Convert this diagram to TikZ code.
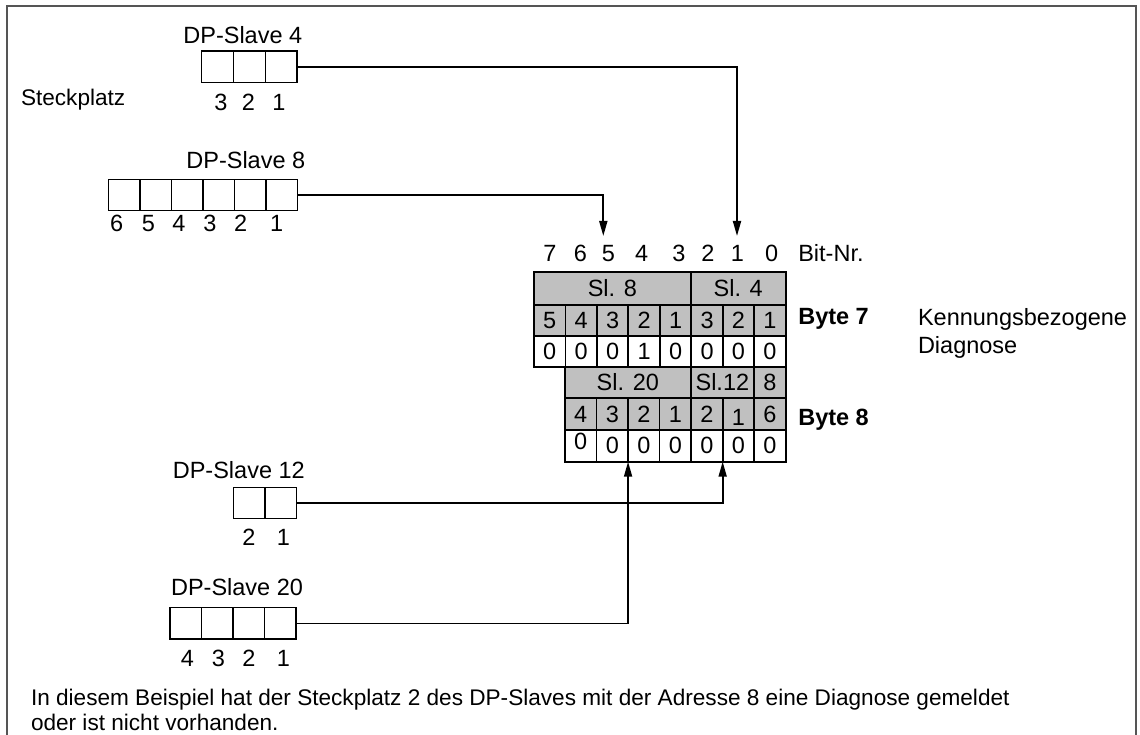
\documentclass[tikz,border=0pt]{standalone}
\usepackage{fontspec}
\setmainfont{Liberation Sans}
\usetikzlibrary{arrows.meta}
\definecolor{cellgray}{HTML}{C0C0C0}
\definecolor{framegray}{HTML}{555555}
\begin{document}
\begin{tikzpicture}[x=1pt,y=-1pt,
  font=\fontsize{23.5}{25}\selectfont,
  cell/.style={draw, line width=1.8pt, inner sep=0pt, outer sep=0pt, anchor=north west},
  gcell/.style={cell, fill=cellgray},
  wcell/.style={cell, fill=white},
  slot/.style={draw, line width=1.3pt, inner sep=0pt, outer sep=0pt, anchor=north west,
    minimum width=31.6pt, minimum height=31.4pt},
  lbl/.style={inner sep=0pt, outer sep=0pt, anchor=base},
  lblw/.style={inner sep=0pt, outer sep=0pt, anchor=base west},
  small/.style={font=\fontsize{22.6}{25}\selectfont},
  conn/.style={line width=1.8pt},
  arr/.style={conn, -{Triangle[length=15pt,width=8pt]}}]
\useasboundingbox (0,0) rectangle (1140,735);
% frame
\draw[framegray, line width=2pt] (7.3,735) -- (7.3,6) -- (1136,6) -- (1136,735);

% ---------- DP-Slave 4 ----------
\node[lbl] (l4) at (242.8,43.3) {DP-Slave 4};
\foreach \n [count=\i] in {a,b,c}
  \node[slot] (s4\n) at ({201.7+(\i-1)*31.87},51) {};
\node[lbl] (s4n3) at (221,110.7) {3};
\node[lbl] (s4n2) at (248.3,110.7) {2};
\node[lbl] (s4n1) at (279,110.7) {1};
\node[lblw, small] (steck) at (21,105.5) {Steckplatz};

% ---------- DP-Slave 8 ----------
\node[lbl] (l8) at (245.8,168.3) {DP-Slave 8};
\foreach \n [count=\i] in {a,b,c,d,e,f}
  \node[slot] (s8\n) at ({108.3+(\i-1)*31.5},179.3) {};
\node[lbl] (s8n6) at (116.7,231.7) {6};
\node[lbl] (s8n5) at (148.3,231.7) {5};
\node[lbl] (s8n4) at (179,231.7) {4};
\node[lbl] (s8n3) at (210,231.7) {3};
\node[lbl] (s8n2) at (240.7,231.7) {2};
\node[lbl] (s8n1) at (276.7,231.7) {1};

% ---------- DP-Slave 12 ----------
\node[lbl] (l12) at (238.8,478.3) {DP-Slave 12};
\foreach \n [count=\i] in {a,b}
  \node[slot] (s12\n) at ({233.3+(\i-1)*31.35},487.3) {};
\node[lbl] (s12n2) at (249,545.7) {2};
\node[lbl] (s12n1) at (283.3,545.7) {1};

% ---------- DP-Slave 20 ----------
\node[lbl] (l20) at (237,595) {DP-Slave 20};
\foreach \n [count=\i] in {a,b,c,d}
  \node[slot] (s20\n) at ({170+(\i-1)*31.5},607.7) {};
\node[lbl] (s20n4) at (187.5,666.7) {4};
\node[lbl] (s20n3) at (218.3,666.7) {3};
\node[lbl] (s20n2) at (249,666.7) {2};
\node[lbl] (s20n1) at (283.3,666.7) {1};

% ---------- bit numbers ----------
\foreach \t/\x in {7/550,6/580.5,5/608.5,4/641.7,3/679,2/708,1/737.5,0/771.7}
  \node[lbl] (bit\t) at (\x,261.7) {\t};
\node[lblw] (bitnr) at (798.3,261.7) {Bit-Nr.};

% ---------- Byte 7 ----------
\node[gcell, minimum width=156.7pt, minimum height=33.3pt] (sl8) at (534,271.7) {Sl. 8};
\node[gcell, minimum width=95pt, minimum height=33.3pt] (sl4) at (690.7,271.7) {Sl. 4};
\foreach \t [count=\i] in {5,4,3,2,1,3,2,1}
  \node[gcell, minimum width=31.46pt, minimum height=31pt] (ra\i) at ({534+(\i-1)*31.46},305) {\t};
\foreach \t [count=\i] in {0,0,0,1,0,0,0,0}
  \node[wcell, minimum width=31.46pt, minimum height=30.7pt] (rb\i) at ({534+(\i-1)*31.46},336) {\t};

% ---------- Byte 8 ----------
\node[gcell, minimum width=125.7pt, minimum height=31.6pt] (sl20) at (565,366.7) {Sl. 20};
\node[gcell, minimum width=63.3pt, minimum height=31.6pt] (sl12) at (690.7,366.7) {Sl.12};
\node[gcell, minimum width=31.7pt, minimum height=31.6pt] (sl8b) at (754,366.7) {8};
\foreach \t [count=\i] in {4,3,2,1,2,\raisebox{-3pt}[\height][\depth]{1},6}
  \node[gcell, minimum width=31.53pt, minimum height=31.7pt] (rc\i) at ({565+(\i-1)*31.53},398.3) {\t};
\foreach \t [count=\i] in {\raisebox{4pt}[\height][\depth]{0},0,0,0,0,0,0}
  \node[wcell, minimum width=31.53pt, minimum height=31.7pt] (rd\i) at ({565+(\i-1)*31.53},430) {\t};

% ---------- side labels ----------
\node[lblw] (byte7) at (798.3,324) {\bfseries Byte 7};
\node[lblw] (byte8) at (798.3,425.5) {\bfseries Byte 8};
\node[lblw] (kenn1) at (918,325) {Kennungsbezogene};
\node[lblw] (kenn2) at (918,353.3) {Diagnose};

% ---------- connectors ----------
\coordinate (t8) at (603.3,236);
\coordinate (t4) at (737,236);
\draw[arr] (s8f.east) -| (t8);
\draw[arr] (s4c.east) -| (t4);
\draw[arr] (s12b.east) -| (rd5.south east);
\draw[arr] (s20d.east) -| (rd2.south east);

% ---------- footnote ----------
\node[lblw, small] (note1) at (31,705) {In diesem Beispiel hat der Steckplatz 2 des DP-Slaves mit der Adresse 8 eine Diagnose gemeldet};
\node[lblw, small] (note2) at (31,730) {oder ist nicht vorhanden.};
\end{tikzpicture}
\end{document}
